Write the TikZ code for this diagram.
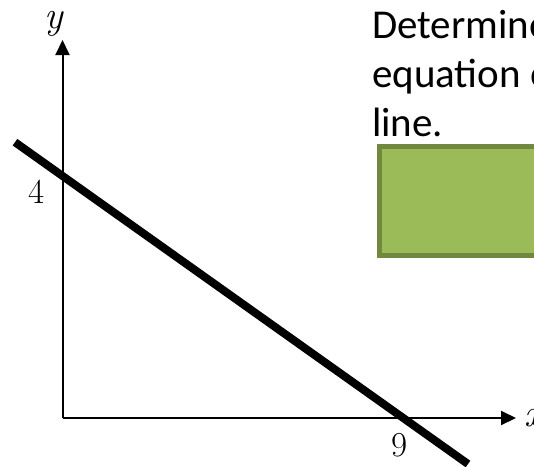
\documentclass[tikz,border=0pt]{standalone}
\usepackage{fontspec}
\newfontfamily\calibri{Carlito}
\usetikzlibrary{arrows.meta}
\definecolor{boxgreen}{HTML}{9BBB59}
\definecolor{boxedge}{HTML}{71893F}

\begin{document}
\begin{tikzpicture}[x=1pt, y=-1pt,
  axis/.style={-{Triangle[length=15pt, width=14pt]}, line width=2pt},
  graphline/.style={line width=8pt},
  tick/.style={font=\fontsize{35}{35}\selectfont, inner sep=0pt},
  varlab/.style={font=\fontsize{39}{39}\selectfont\itshape, inner sep=0pt},
  question/.style={font=\calibri\fontsize{41}{49}\selectfont, align=left,
                   anchor=base west, inner sep=0pt},
  answer/.style={rectangle, draw=boxedge, fill=boxgreen, line width=5pt,
                 minimum width=200pt, minimum height=109pt, anchor=north west}
]
\clip (0,0) rectangle (534,466);

% axes
\coordinate (origin) at (62.5,418);
\coordinate (ytop) at (62.5,40);
\coordinate (xend) at (516,418);
\draw[axis] (origin) -- (ytop);
\draw[axis] (origin) -- (xend);
\node[varlab] (ylab) at (54,24) {y};
\node[varlab] (xlab) at (533,418) {x};
\node[tick] (yint) at (37,192) {4};
\node[tick] (xint) at (400,445) {9};

% the line
\coordinate (lstart) at (15,142.2);
\coordinate (lend) at (468,464);
\draw[graphline] (lstart) -- (lend);

% question and answer box
\node[question] (ask) at (372,136) {Determine the\\equation of the\\line.};
\node[answer] (ans) at (377,144) {};

\end{tikzpicture}
\end{document}
